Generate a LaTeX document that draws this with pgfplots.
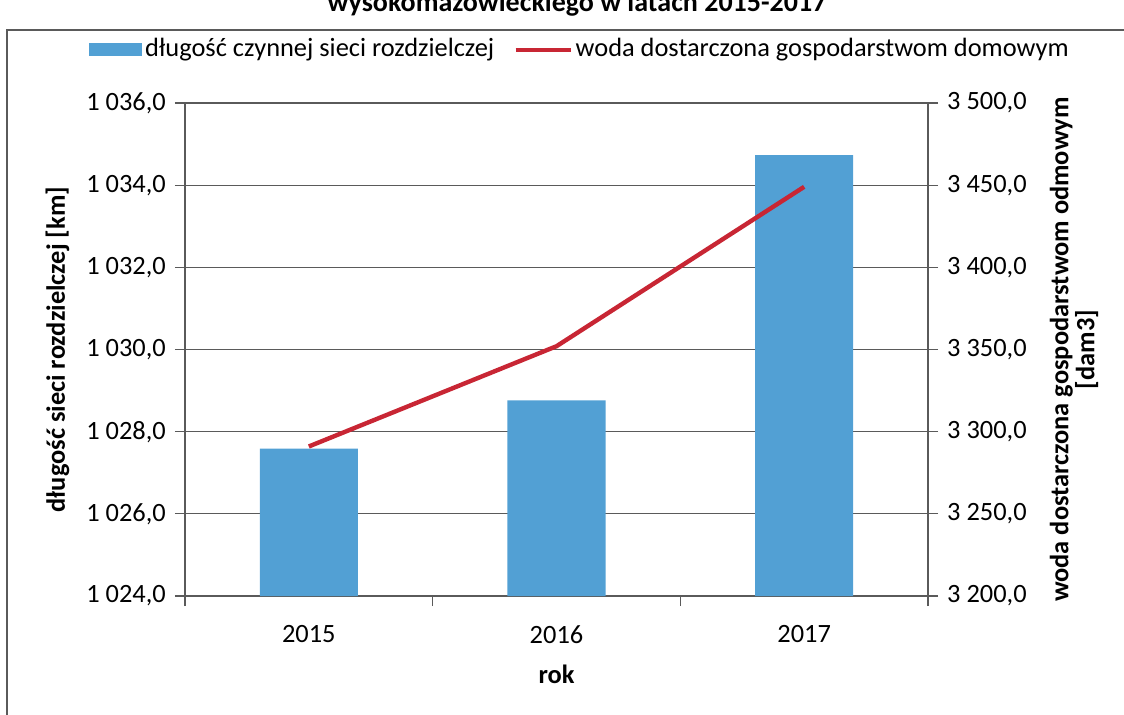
\documentclass[border=0pt]{standalone}
\usepackage{pgfplots}
\pgfplotsset{compat=1.18}
\usepackage{fontspec}
\setmainfont{Carlito}
\definecolor{barblue}{RGB}{82,160,212}
\definecolor{linered}{RGB}{200,38,52}
\definecolor{gridgray}{RGB}{90,90,90}
\begin{document}
\fontsize{13.2}{15.5}\selectfont
\begin{tikzpicture}
\useasboundingbox (0,0) rectangle (562pt,357pt);
\draw[gridgray, line width=0.6pt] (3.5pt,-2pt) -- (3.5pt,342pt) -- (566pt,342pt);
\node[anchor=base, font=\bfseries\fontsize{14}{16}\selectfont] at (288.5pt,351pt) {wysokomazowieckiego w latach 2015-2017};
\begin{axis}[
  at={(92.5pt,59pt)}, anchor=south west,
  scale only axis, width=371.5pt, height=246.5pt,
  xmin=-0.5, xmax=2.5, ymin=1024, ymax=1036,
  axis y line*=left, axis x line*=bottom,
  axis line style={gridgray, line width=0.6pt},
  xtick={0,1,2}, xticklabels={2015,2016,2017},
  minor xtick={-0.5,0.5,1.5,2.5},
  every major x tick/.style={draw=none},
  every minor x tick/.style={gridgray, line width=0.6pt},
  minor tick length=5pt,
  ytick distance=2,
  ymajorgrids, major grid style={gridgray, line width=0.6pt},
  major tick length=5pt, tick align=outside,
  tick style={gridgray, line width=0.6pt},
  /pgf/number format/assume math mode=true,
  yticklabel style={/pgf/number format/.cd, fixed, fixed zerofill, precision=1, use comma, 1000 sep={\ }},
  scaled y ticks=false,
  xlabel={\bfseries rok}, ylabel={\bfseries długość sieci rozdzielczej [km]},
  xlabel style={yshift=-2pt},
  ylabel style={yshift=-0.5pt},
  xticklabel style={yshift=-5pt},
  clip=false,
]
\addplot[ybar, bar width=0.396, fill=barblue, draw=none, bar shift=0pt] coordinates {(0,1027.59) (1,1028.76) (2,1034.73)};
\end{axis}
\begin{axis}[
  at={(92.5pt,59pt)}, anchor=south west,
  scale only axis, width=371.5pt, height=246.5pt,
  xmin=-0.5, xmax=2.5, ymin=3200, ymax=3500,
  axis x line=none, axis y line*=right,
  axis line style={gridgray, line width=0.6pt},
  ytick distance=50,
  major tick length=5pt, tick align=outside,
  tick style={gridgray, line width=0.6pt},
  /pgf/number format/assume math mode=true,
  yticklabel style={/pgf/number format/.cd, fixed, fixed zerofill, precision=1, use comma, 1000 sep={\ }},
  scaled y ticks=false,
  ylabel={\bfseries\begin{tabular}{@{}c@{}}woda dostarczona gospodarstwom odmowym\\[-2.5pt]{[dam3]}\end{tabular}},
  ylabel style={yshift=-1pt},
  legend style={at={(0.5323,1.108)}, anchor=center, draw=none, fill=none,
    legend columns=2, /tikz/every odd column/.append style={column sep=0pt},
    /tikz/every even column/.append style={column sep=8pt},
    font=\fontsize{13.2}{15.5}\selectfont, inner sep=0pt,
    nodes={inner sep=1.5pt}},
  legend cell align=left,
  clip=false,
]
\addlegendimage{legend image code/.code={\fill[barblue] (0pt,-3pt) rectangle (26pt,3pt);}}
\addlegendentry{długość czynnej sieci rozdzielczej}
\addplot[linered, line width=2.2pt, legend image code/.code={\draw[linered, line width=2.2pt] (0pt,0pt) -- (27.5pt,0pt);}] coordinates {(0,3291) (1,3352) (2,3449)};
\addlegendentry{woda dostarczona gospodarstwom domowym}
\end{axis}
\end{tikzpicture}
\end{document}
